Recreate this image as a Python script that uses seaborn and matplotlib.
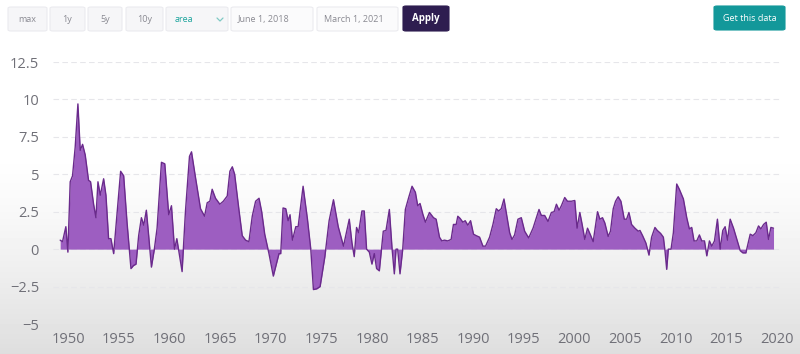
import numpy as np
import pandas as pd
import matplotlib
matplotlib.use("Agg")
import matplotlib.pyplot as plt
from matplotlib.patches import FancyBboxPatch
from matplotlib.lines import Line2D
import seaborn as sns

# values (decimal year, percent)
years = [
    1949.21, 1949.44, 1949.77, 1949.97, 1950.20, 1950.43, 1950.69, 1950.96, 1951.19, 1951.42,
    1951.68, 1952.01, 1952.21, 1952.51, 1952.74, 1952.94, 1953.17, 1953.50, 1953.73, 1953.99,
    1954.22, 1954.49, 1954.75, 1955.18, 1955.48, 1955.81, 1956.20, 1956.44, 1956.70, 1956.96,
    1957.23, 1957.46, 1957.72, 1957.95, 1958.22, 1958.51, 1958.78, 1959.21, 1959.54, 1959.93,
    1960.20, 1960.50, 1960.73, 1960.99, 1961.25, 1961.58, 1961.98, 1962.18, 1962.57, 1963.07,
    1963.47, 1963.73, 1963.99, 1964.22, 1964.55, 1964.98, 1965.32, 1965.71, 1965.97, 1966.21,
    1966.44, 1966.86, 1967.19, 1967.52, 1967.85, 1968.18, 1968.51, 1968.85, 1969.11, 1969.41,
    1969.83, 1970.26, 1970.59, 1970.82, 1970.99, 1971.22, 1971.49, 1971.72, 1971.91, 1972.15,
    1972.48, 1972.71, 1973.20, 1973.63, 1973.96, 1974.22, 1974.55, 1974.88, 1975.35, 1975.77,
    1976.20, 1976.67, 1977.19, 1977.76, 1978.02, 1978.25, 1978.48, 1978.68, 1979.01, 1979.24,
    1979.47, 1979.74, 1980.00, 1980.23, 1980.46, 1980.73, 1981.12, 1981.39, 1981.72, 1981.98,
    1982.21, 1982.38, 1982.54, 1982.77, 1983.04, 1983.30, 1983.63, 1983.96, 1984.29, 1984.52,
    1984.75, 1985.02, 1985.28, 1985.68, 1986.08, 1986.34, 1986.67, 1986.90, 1987.16, 1987.49,
    1987.82, 1988.05, 1988.32, 1988.48, 1988.71, 1988.98, 1989.21, 1989.47, 1989.74, 1990.03,
    1990.30, 1990.63, 1990.96, 1991.22, 1991.62, 1991.95, 1992.28, 1992.51, 1992.77, 1993.04,
    1993.37, 1993.60, 1993.83, 1994.09, 1994.42, 1994.75, 1995.08, 1995.48, 1995.91, 1996.24,
    1996.50, 1996.73, 1997.06, 1997.39, 1997.72, 1997.99, 1998.22, 1998.48, 1998.71, 1999.04,
    1999.31, 1999.70, 2000.03, 2000.26, 2000.53, 2000.76, 2001.02, 2001.29, 2001.58, 2001.85,
    2002.28, 2002.51, 2002.77, 2003.00, 2003.33, 2003.56, 2003.83, 2004.06, 2004.32, 2004.59,
    2004.92, 2005.15, 2005.38, 2005.64, 2005.97, 2006.30, 2006.47, 2006.73, 2007.06, 2007.36,
    2007.62, 2007.95, 2008.18, 2008.51, 2008.78, 2008.94, 2009.11, 2009.27, 2009.54, 2009.77,
    2010.10, 2010.36, 2010.76, 2011.09, 2011.35, 2011.58, 2011.81, 2012.08, 2012.34, 2012.57,
    2012.84, 2013.07, 2013.33, 2013.56, 2013.83, 2014.12, 2014.39, 2014.65, 2014.88, 2015.12,
    2015.38, 2015.71, 2016.04, 2016.37, 2016.63, 2016.93, 2017.36, 2017.62, 2017.92, 2018.18,
    2018.41, 2018.68, 2018.94, 2019.17, 2019.40, 2019.66,
]
values = [
    0.6, 0.5, 1.5, -0.2, 4.5, 4.9, 6.8, 9.7, 6.6, 7.0,
    6.3, 4.6, 4.5, 3.0, 2.1, 4.5, 3.6, 4.7, 3.6, 0.7,
    0.7, -0.3, 1.8, 5.2, 4.9, 1.8, -1.3, -1.1, -1.0, 0.9,
    2.1, 1.6, 2.6, 0.9, -1.2, 0.0, 1.4, 5.8, 5.7, 2.3,
    2.9, 0.0, 0.7, -0.4, -1.5, 2.5, 6.2, 6.5, 4.8, 2.7,
    2.2, 3.1, 3.2, 4.0, 3.4, 3.0, 3.2, 3.55, 5.2, 5.5,
    5.0, 2.65, 0.9, 0.6, 0.5, 2.2, 3.2, 3.4, 2.5, 1.0,
    -0.3, -1.8, -0.9, -0.3, -0.3, 2.75, 2.7, 1.9, 2.3, 0.6,
    1.5, 1.5, 4.2, 2.0, 0.0, -2.7, -2.65, -2.5, -0.5, 1.9,
    3.3, 1.5, 0.2, 2.0, 0.45, -0.5, 1.45, 1.1, 2.55, 2.55,
    0.0, -0.2, -1.0, -0.3, -1.3, -1.45, 1.2, 1.25, 2.65, 0.1,
    -1.65, 0.0, 0.0, -1.65, 0.0, 2.65, 3.45, 4.2, 3.8, 2.9,
    3.05, 2.35, 1.8, 2.45, 2.1, 2.0, 0.8, 0.55, 0.6, 0.55,
    0.65, 1.65, 1.65, 2.2, 2.05, 1.8, 1.9, 1.6, 1.9, 1.0,
    0.9, 0.8, 0.2, 0.2, 0.8, 1.65, 2.7, 2.55, 2.7, 3.35,
    2.0, 1.1, 0.65, 0.95, 2.0, 2.1, 1.2, 0.75, 1.4, 2.1,
    2.65, 2.25, 2.25, 1.85, 2.45, 2.5, 3.0, 2.6, 2.9, 3.45,
    3.2, 3.2, 3.25, 1.4, 2.45, 1.65, 0.65, 1.4, 0.95, 0.5,
    2.5, 2.0, 2.1, 1.75, 0.85, 1.2, 2.7, 3.2, 3.5, 3.2,
    2.0, 2.0, 2.45, 1.65, 1.4, 1.2, 1.25, 0.9, 0.4, -0.4,
    0.8, 1.45, 1.25, 1.05, 0.8, -0.1, -1.35, 0.0, 0.0, 1.1,
    4.35, 4.0, 3.35, 2.1, 1.35, 1.45, 0.55, 0.55, 0.95, 0.55,
    0.55, -0.45, 0.55, 0.2, 0.55, 2.0, 0.0, 1.25, 1.5, 0.6,
    2.0, 1.4, 0.65, -0.1, -0.25, -0.25, 1.0, 0.9, 1.1, 1.55,
    1.35, 1.65, 1.8, 0.65, 1.45, 1.4,
]
y_ticks = [-5, -2.5, 0, 2.5, 5, 7.5, 10, 12.5]
y_labels = ["−5", "−2.5", "0", "2.5", "5", "7.5", "10", "12.5"]
x_ticks = list(range(1950, 2021, 5))
buttons = ["max", "1y", "5y", "10y"]
chart_type = "area"
date_from = "June 1, 2018"
date_to = "March 1, 2021"

df = pd.DataFrame({"year": years, "value": values})

sns.set_style("white")
plt.rcParams["font.family"] = ["Open Sans", "DejaVu Sans"]

W, H = 800, 354
fig = plt.figure(figsize=(W / 100, H / 100), dpi=100)

# screenshot-like background: white fading to light grey toward the bottom
bg = fig.add_axes([0, 0, 1, 1], zorder=-10)
grad = np.ones((H, 1))
rows = np.arange(H)
grad[:, 0] = np.clip((rows - 150) / (H - 150), 0, 1)
bg.imshow(1 - 0.13 * grad ** 1.3, cmap="gray", vmin=0, vmax=1, aspect="auto",
          extent=[0, 1, 0, 1], origin="upper")
bg.set_axis_off()


def px_box(x0, y0, x1, y1, fc, ec, rad=3):
    p = FancyBboxPatch((x0 / W, 1 - y1 / H), (x1 - x0) / W, (y1 - y0) / H,
                       boxstyle=f"round,pad=0,rounding_size={rad / W}",
                       transform=fig.transFigure, fc=fc, ec=ec, lw=0.8)
    fig.add_artist(p)


def px_text(x, y, s, **kw):
    fig.text(x / W, 1 - y / H, s, va="center", **kw)


# top control bar
btn_x = [(8, 47), (50, 85), (88, 122), (126, 163)]
for (x0, x1), lab in zip(btn_x, buttons):
    px_box(x0, 7, x1, 31, "#f6f6f8", "#ebebef")
    px_text((x0 + x1) / 2, 19.5, lab, ha="center", fontsize=6.5, color="#8a8a92")
px_box(166, 7, 228, 31, "#f6f6f8", "#ebebef")
px_text(175, 19.5, chart_type, ha="left", fontsize=6.5, color="#1aa39c")
fig.add_artist(Line2D([217 / W, 220 / W, 223 / W], [1 - 18 / H, 1 - 21 / H, 1 - 18 / H],
                      transform=fig.transFigure, color="#7fc9c4", lw=0.9))
px_box(231, 7, 313, 31, "#fbfbfc", "#ebebef")
px_text(238, 19.5, date_from, ha="left", fontsize=6.5, color="#8a8a92")
px_box(317, 7, 398, 31, "#fbfbfc", "#ebebef")
px_text(324, 19.5, date_to, ha="left", fontsize=6.5, color="#8a8a92")
px_box(403, 6, 449, 31, "#2e1d50", "#2e1d50")
px_text(426, 19, "Apply", ha="center", fontsize=7, color="white", fontweight="bold")
px_box(714, 6, 785, 30, "#13989a", "#13989a")
px_text(749.5, 18.5, "Get this data", ha="center", fontsize=6.5, color="white")

# main chart
ax = fig.add_axes([53 / W, 1 - 324 / H, 727 / W, 262 / H])
ax.set_facecolor("none")
ax.fill_between(df["year"], 0, df["value"], color="#9d5ec1", lw=0, zorder=2)
sns.lineplot(data=df, x="year", y="value", ax=ax, color="#6a2a8c", lw=1.0, zorder=3)

ax.set_xlim(1948.5, 2020.3)
ax.set_ylim(-5, 12.5)
ax.set_yticks(y_ticks)
ax.set_yticklabels(y_labels)
ax.set_xticks(x_ticks)
ax.set_xticklabels([str(t) for t in x_ticks])
ax.grid(axis="y", color="#e6e6ea", lw=0.8, ls=(0, (5, 3)))
ax.grid(axis="x", visible=False)
ax.set_xlabel("")
ax.set_ylabel("")
for s in ax.spines.values():
    s.set_visible(False)
ax.tick_params(axis="y", length=0, pad=10, labelsize=10.5, labelcolor="#707078")
ax.tick_params(axis="x", length=0, pad=6, labelsize=10.5, labelcolor="#707078")

fig.savefig("out.png", dpi=100)
